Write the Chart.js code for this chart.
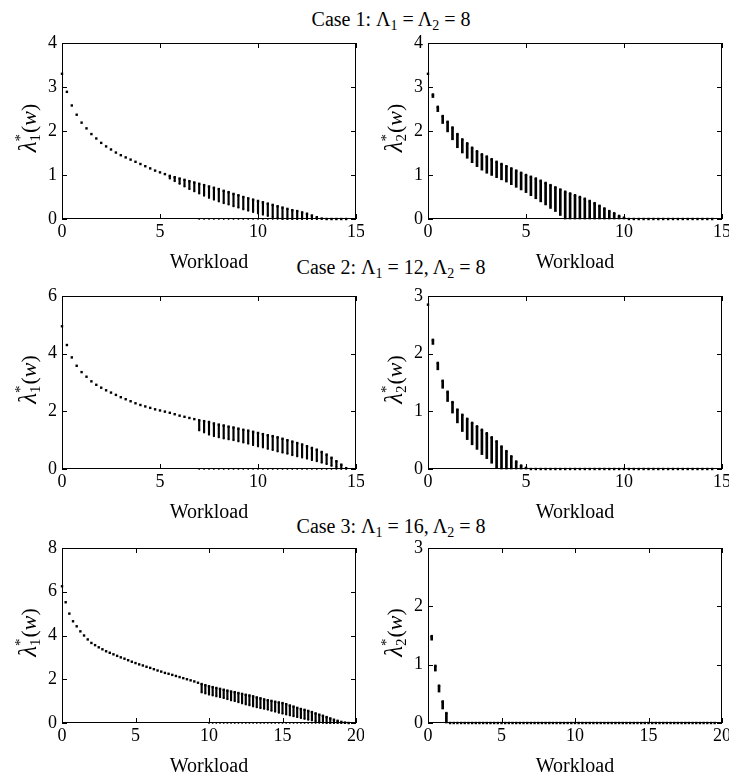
<!DOCTYPE html>
<html>
<head>
<meta charset="utf-8">
<script src="https://cdn.jsdelivr.net/npm/chart.js@4.4.0/dist/chart.umd.min.js"></script>
<style>
    body { margin: 0; background: #fff; width: 729px; height: 779px; position: relative; overflow: hidden; font-family: "Liberation Serif", serif; }
    .panel { position: absolute; }
    .ttl { position: absolute; left: 391px; transform: translateX(-50%); white-space: nowrap; font-size: 20px; line-height: 20px; color: #000; }
    .ttl sub { font-size: 14px; vertical-align: -4px; line-height: 0; }
</style>
</head>
<body>
<div class="ttl" style="top:9px">Case 1: &Lambda;<sub>1</sub> = &Lambda;<sub>2</sub> = 8</div>
<div class="ttl" style="top:257px">Case 2: &Lambda;<sub>1</sub> = 12, &Lambda;<sub>2</sub> = 8</div>
<div class="ttl" style="top:516px">Case 3: &Lambda;<sub>1</sub> = 16, &Lambda;<sub>2</sub> = 8</div>

<div class="panel" style="left:0px;top:31px"><canvas id="c1L" width="364" height="244"></canvas></div>
<div class="panel" style="left:366px;top:31px"><canvas id="c1R" width="364" height="244"></canvas></div>
<div class="panel" style="left:0px;top:284px"><canvas id="c2L" width="364" height="241"></canvas></div>
<div class="panel" style="left:366px;top:284px"><canvas id="c2R" width="364" height="241"></canvas></div>
<div class="panel" style="left:0px;top:536px"><canvas id="c3L" width="364" height="243"></canvas></div>
<div class="panel" style="left:366px;top:536px"><canvas id="c3R" width="364" height="243"></canvas></div>

<script>
// workload grid
const workload15 = [0, 0.25, 0.5, 0.75, 1, 1.25, 1.5, 1.75, 2, 2.25, 2.5, 2.75, 3, 3.25, 3.5, 3.75,
    4, 4.25, 4.5, 4.75, 5, 5.25, 5.5, 5.75, 6, 6.25, 6.5, 6.75, 7, 7.25, 7.5, 7.75,
    8, 8.25, 8.5, 8.75, 9, 9.25, 9.5, 9.75, 10, 10.25, 10.5, 10.75, 11, 11.25, 11.5, 11.75,
    12, 12.25, 12.5, 12.75, 13, 13.25, 13.5, 13.75, 14, 14.25, 14.5];
const workload20 = [0, 0.25, 0.5, 0.75, 1, 1.25, 1.5, 1.75, 2, 2.25, 2.5, 2.75, 3, 3.25, 3.5, 3.75,
    4, 4.25, 4.5, 4.75, 5, 5.25, 5.5, 5.75, 6, 6.25, 6.5, 6.75, 7, 7.25, 7.5, 7.75,
    8, 8.25, 8.5, 8.75, 9, 9.25, 9.5, 9.75, 10, 10.25, 10.5, 10.75, 11, 11.25, 11.5, 11.75,
    12, 12.25, 12.5, 12.75, 13, 13.25, 13.5, 13.75, 14, 14.25, 14.5, 14.75, 15, 15.25, 15.5, 15.75,
    16, 16.25, 16.5, 16.75, 17, 17.25, 17.5, 17.75, 18, 18.25, 18.5, 18.75, 19, 19.25, 19.5];

// tick labels
const xTicks15 = [0, 5, 10, 15];
const xTicks20 = [0, 5, 10, 15, 20];
const yTicks1L = [0, 1, 2, 3, 4];
const yTicks1R = [0, 1, 2, 3, 4];
const yTicks2L = [0, 2, 4, 6];
const yTicks2R = [0, 1, 2, 3];
const yTicks3L = [0, 2, 4, 6, 8];
const yTicks3R = [0, 1, 2, 3];

// Case 1: lambda1 (upper and lower end of each column)
const case1Lam1Top = [3.30, 2.89, 2.58, 2.37, 2.19, 2.06, 1.93, 1.83, 1.73, 1.65, 1.58, 1.51,
    1.45, 1.40, 1.35, 1.30, 1.25, 1.20, 1.15, 1.10, 1.06, 1.02, 0.98, 0.95,
    0.92, 0.89, 0.86, 0.83, 0.80, 0.77, 0.74, 0.71, 0.68, 0.64, 0.61, 0.57,
    0.54, 0.50, 0.47, 0.44, 0.41, 0.38, 0.35, 0.32, 0.29, 0.26, 0.23, 0.20,
    0.18, 0.15, 0.12, 0.08, 0.04, 0.01, 0, 0, 0, 0, 0];
const case1Lam1Low = [null, null, null, null, null, null, null, null, null, null, null, null,
    null, null, null, null, null, null, null, null, null, null, 0.92, 0.86,
    0.80, 0.74, 0.68, 0.63, 0.58, 0.53, 0.48, 0.44, 0.40, 0.36, 0.33, 0.29,
    0.26, 0.22, 0.19, 0.16, 0.13, 0.10, 0.07, 0.04, 0.02, 0, 0, 0,
    0, 0, 0, 0, 0, null, null, null, null, null, null];
const case1Lam1ZeroFrom = 7;

// Case 1: lambda2
const case1Lam2Top = [3.30, 2.83, 2.55, 2.34, 2.21, 2.08, 1.93, 1.81, 1.72, 1.62, 1.54, 1.47,
    1.42, 1.36, 1.30, 1.25, 1.20, 1.15, 1.10, 1.05, 1.00, 0.96, 0.92, 0.87,
    0.82, 0.77, 0.72, 0.67, 0.62, 0.58, 0.54, 0.50, 0.46, 0.41, 0.36, 0.30,
    0.24, 0.18, 0.13, 0.07, 0.03, 0, 0, 0, 0, 0, 0, 0,
    0, 0, 0, 0, 0, 0, 0, 0, 0, 0, 0];
const case1Lam2Low = [3.30, 2.76, 2.44, 2.17, 1.98, 1.80, 1.62, 1.50, 1.38, 1.28, 1.19, 1.11,
    1.04, 0.99, 0.94, 0.89, 0.84, 0.78, 0.72, 0.66, 0.60, 0.53, 0.46, 0.39,
    0.32, 0.24, 0.17, 0.08, 0, 0, 0, 0, 0, 0, 0, 0,
    0, 0, 0, 0, 0, 0, 0, 0, 0, 0, 0, 0,
    0, 0, 0, 0, 0, 0, 0, 0, 0, 0, 0];

// Case 2: lambda1
const case2Lam1Top = [4.95, 4.30, 3.87, 3.58, 3.36, 3.20, 3.04, 2.92, 2.82, 2.73, 2.65, 2.57,
    2.49, 2.42, 2.35, 2.28, 2.22, 2.17, 2.12, 2.07, 2.03, 1.99, 1.95, 1.90,
    1.85, 1.81, 1.77, 1.73, 1.69, 1.66, 1.63, 1.58, 1.54, 1.51, 1.47, 1.44,
    1.40, 1.36, 1.33, 1.29, 1.25, 1.21, 1.17, 1.14, 1.10, 1.05, 1.00, 0.95,
    0.90, 0.85, 0.79, 0.73, 0.67, 0.59, 0.50, 0.39, 0.27, 0.15, 0.03];
const case2Lam1Low = [null, null, null, null, null, null, null, null, null, null, null, null,
    null, null, null, null, null, null, null, null, null, null, null, null,
    null, null, null, null, 1.34, 1.27, 1.19, 1.14, 1.10, 1.06, 1.03, 1.00,
    0.96, 0.92, 0.88, 0.83, 0.79, 0.75, 0.70, 0.66, 0.61, 0.57, 0.53, 0.48,
    0.44, 0.40, 0.36, 0.31, 0.27, 0.22, 0.17, 0.11, 0.06, 0.02, null];
const case2Lam1ZeroFrom = 7;

// Case 2: lambda2
const case2Lam2Top = [2.85, 2.24, 1.84, 1.53, 1.34, 1.16, 1.03, 0.94, 0.87, 0.80, 0.74, 0.68,
    0.62, 0.55, 0.48, 0.39, 0.31, 0.22, 0.13, 0.06, 0.02, 0, 0, 0,
    0, 0, 0, 0, 0, 0, 0, 0, 0, 0, 0, 0,
    0, 0, 0, 0, 0, 0, 0, 0, 0, 0, 0, 0,
    0, 0, 0, 0, 0, 0, 0, 0, 0, 0, 0];
const case2Lam2Low = [2.85, 2.16, 1.72, 1.40, 1.17, 0.97, 0.80, 0.65, 0.51, 0.42, 0.34, 0.25,
    0.18, 0.10, 0.02, 0, 0, 0, 0, 0, 0, 0, 0, 0,
    0, 0, 0, 0, 0, 0, 0, 0, 0, 0, 0, 0,
    0, 0, 0, 0, 0, 0, 0, 0, 0, 0, 0, 0,
    0, 0, 0, 0, 0, 0, 0, 0, 0, 0, 0];

// Case 3: lambda1
const case3Lam1Top = [6.25, 5.52, 5.00, 4.65, 4.42, 4.19, 4.00, 3.82, 3.66, 3.56, 3.46, 3.37,
    3.28, 3.21, 3.14, 3.07, 3.00, 2.94, 2.87, 2.80, 2.74, 2.68, 2.63, 2.57,
    2.52, 2.46, 2.40, 2.35, 2.29, 2.25, 2.20, 2.15, 2.10, 2.05, 2.00, 1.95,
    1.90, 1.84, 1.78, 1.73, 1.68, 1.64, 1.60, 1.56, 1.52, 1.48, 1.44, 1.41,
    1.37, 1.33, 1.29, 1.26, 1.22, 1.17, 1.13, 1.08, 1.04, 1.01, 0.97, 0.94,
    0.91, 0.86, 0.80, 0.75, 0.69, 0.64, 0.60, 0.55, 0.50, 0.44, 0.38, 0.33,
    0.27, 0.21, 0.15, 0.10, 0.05, 0.02, 0];
const case3Lam1Low = [null, null, null, null, null, null, null, null, null, null, null, null,
    null, null, null, null, null, null, null, null, null, null, null, null,
    null, null, null, null, null, null, null, null, null, null, null, null,
    null, null, 1.40, 1.35, 1.30, 1.26, 1.22, 1.18, 1.14, 1.09, 1.04, 1.00,
    0.95, 0.90, 0.85, 0.81, 0.76, 0.72, 0.68, 0.65, 0.61, 0.56, 0.52, 0.47,
    0.43, 0.39, 0.35, 0.31, 0.27, 0.23, 0.19, 0.15, 0.12, 0.08, 0.05, 0.02,
    0, 0, 0, 0, 0, 0, null];
const case3Lam1ZeroFrom = 10;

// Case 3: lambda2
const case3Lam2Top = [null, 1.49, 0.98, 0.64, 0.37, 0.17, 0, 0, 0, 0, 0, 0,
    0, 0, 0, 0, 0, 0, 0, 0, 0, 0, 0, 0,
    0, 0, 0, 0, 0, 0, 0, 0, 0, 0, 0, 0,
    0, 0, 0, 0, 0, 0, 0, 0, 0, 0, 0, 0,
    0, 0, 0, 0, 0, 0, 0, 0, 0, 0, 0, 0,
    0, 0, 0, 0, 0, 0, 0, 0, 0, 0, 0, 0,
    0, 0, 0, 0, 0, 0, 0];
const case3Lam2Low = [null, 1.42, 0.89, 0.53, 0.24, 0, 0, 0, 0, 0, 0, 0,
    0, 0, 0, 0, 0, 0, 0, 0, 0, 0, 0, 0,
    0, 0, 0, 0, 0, 0, 0, 0, 0, 0, 0, 0,
    0, 0, 0, 0, 0, 0, 0, 0, 0, 0, 0, 0,
    0, 0, 0, 0, 0, 0, 0, 0, 0, 0, 0, 0,
    0, 0, 0, 0, 0, 0, 0, 0, 0, 0, 0, 0,
    0, 0, 0, 0, 0, 0, 0];

const SERIF = '"Liberation Serif", "Times New Roman", serif';

// box, inward ticks, tick labels and axis titles (MATLAB look)
const framePlugin = {
    id: 'frame',
    afterDraw(chart, args, opts) {
        const ctx = chart.ctx;
        const a = chart.chartArea;
        const xs = chart.scales.x;
        const ys = chart.scales.y;
        ctx.save();
        ctx.strokeStyle = '#000';
        ctx.fillStyle = '#000';
        ctx.lineWidth = 1;
        ctx.strokeRect(a.left + 0.5, a.top + 0.5, a.width - 1, a.height - 1);

        ctx.beginPath();
        opts.xTicks.forEach((t) => {
            const px = Math.round(xs.getPixelForValue(t)) + 0.5;
            ctx.moveTo(px, a.bottom); ctx.lineTo(px, a.bottom - 5);
            ctx.moveTo(px, a.top); ctx.lineTo(px, a.top + 5);
        });
        opts.yTicks.forEach((t) => {
            const py = Math.round(ys.getPixelForValue(t)) + 0.5;
            ctx.moveTo(a.left, py); ctx.lineTo(a.left + 5, py);
            ctx.moveTo(a.right, py); ctx.lineTo(a.right - 5, py);
        });
        ctx.stroke();

        ctx.font = '18px ' + SERIF;
        ctx.textAlign = 'center';
        ctx.textBaseline = 'top';
        opts.xTicks.forEach((t) => {
            ctx.fillText(String(t), xs.getPixelForValue(t), a.bottom + 4);
        });
        ctx.textAlign = 'right';
        ctx.textBaseline = 'middle';
        opts.yTicks.forEach((t) => {
            ctx.fillText(String(t), a.left - 5, ys.getPixelForValue(t));
        });

        // x title
        ctx.font = '20px ' + SERIF;
        ctx.textAlign = 'center';
        ctx.textBaseline = 'middle';
        ctx.fillText('Workload', (a.left + a.right) / 2, a.bottom + 44);

        // y title: lambda*_i(w), rotated
        ctx.translate(a.left - 33, (a.top + a.bottom) / 2 - 3);
        ctx.rotate(-Math.PI / 2);
        const lam = 'italic 25px ' + SERIF;
        const bigI = 'italic 22px ' + SERIF;
        const big = '22px ' + SERIF;
        const small = '15px ' + SERIF;
        ctx.font = lam; const wL = ctx.measureText('\u03bb').width;
        ctx.font = small; const wS = ctx.measureText(opts.sub).width + 1;
        ctx.font = big; const wP = ctx.measureText('(').width;
        ctx.font = bigI; const wW = ctx.measureText('w').width;
        const total = wL + wS + wP * 2 + wW;
        let cx = -total / 2;
        const base = 7;
        ctx.textAlign = 'left';
        ctx.textBaseline = 'alphabetic';
        ctx.font = lam; ctx.fillText('\u03bb', cx, base); cx += wL;
        ctx.font = small; ctx.fillText('*', cx, base - 11); ctx.fillText(opts.sub, cx, base + 4); cx += wS;
        ctx.font = big; ctx.fillText('(', cx, base); cx += wP;
        ctx.font = bigI; ctx.fillText('w', cx, base); cx += wW;
        ctx.font = big; ctx.fillText(')', cx, base);
        ctx.restore();
    }
};

function makePanel(canvasId, grid, top, low, zeroFrom, xMax, yMax, xTicks, yTicks, sub, dotted) {
    const topPts = [];
    const lowPts = [];
    const cols = [];
    const zeroPts = [];
    grid.forEach((w, i) => {
        if (top[i] !== null && top[i] !== undefined) {
            topPts.push({ x: w, y: top[i] });
        }
        if (low[i] !== null && low[i] !== undefined) {
            if (dotted) lowPts.push({ x: w, y: low[i] });
            if (low[i] < top[i]) cols.push({ x: w, y: [low[i], top[i]] });
        }
        if (zeroFrom !== null && w >= zeroFrom) {
            zeroPts.push({ x: w, y: 0 });
        }
    });

    const datasets = [{
        type: 'bar',
        data: cols,
        backgroundColor: '#000',
        borderWidth: 0,
        barThickness: dotted ? 1.5 : 2,
        clip: false
    }, {
        type: 'scatter',
        data: topPts,
        pointStyle: 'rect',
        pointRadius: 1.7,
        borderWidth: 0,
        backgroundColor: '#000',
        clip: false
    }];
    if (dotted) {
        datasets.push({
            type: 'scatter',
            data: lowPts,
            pointStyle: 'rect',
            pointRadius: 1.3,
            borderWidth: 0,
            backgroundColor: '#000',
            clip: false
        });
        datasets.push({
            type: 'scatter',
            data: zeroPts,
            pointStyle: 'rect',
            pointRadius: 1.1,
            borderWidth: 0,
            backgroundColor: '#000',
            clip: false
        });
    }

    const ctx = document.getElementById(canvasId).getContext('2d');
    new Chart(ctx, {
        type: 'bar',
        data: { datasets: datasets },
        options: {
            responsive: false,
            animation: false,
            layout: { padding: { left: 62, top: 12, right: 8, bottom: 56 } },
            plugins: {
                legend: { display: false },
                tooltip: { enabled: false },
                frame: { xTicks: xTicks, yTicks: yTicks, sub: sub }
            },
            scales: {
                x: { type: 'linear', min: 0, max: xMax, offset: false, display: false },
                y: { type: 'linear', min: 0, max: yMax, display: false }
            }
        },
        plugins: [framePlugin]
    });
}

makePanel('c1L', workload15, case1Lam1Top, case1Lam1Low, case1Lam1ZeroFrom, 15, 4, xTicks15, yTicks1L, '1', true);
makePanel('c1R', workload15, case1Lam2Top, case1Lam2Low, null, 15, 4, xTicks15, yTicks1R, '2', false);
makePanel('c2L', workload15, case2Lam1Top, case2Lam1Low, case2Lam1ZeroFrom, 15, 6, xTicks15, yTicks2L, '1', true);
makePanel('c2R', workload15, case2Lam2Top, case2Lam2Low, null, 15, 3, xTicks15, yTicks2R, '2', false);
makePanel('c3L', workload20, case3Lam1Top, case3Lam1Low, case3Lam1ZeroFrom, 20, 8, xTicks20, yTicks3L, '1', true);
makePanel('c3R', workload20, case3Lam2Top, case3Lam2Low, null, 20, 3, xTicks20, yTicks3R, '2', false);
</script>
</body>
</html>
